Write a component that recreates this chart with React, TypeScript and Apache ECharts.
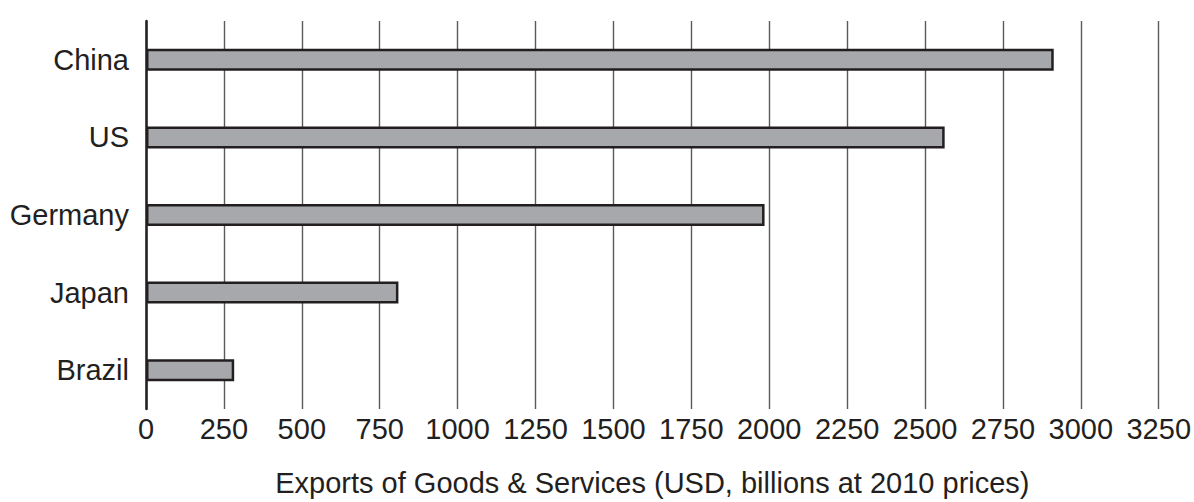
import React, { useEffect, useRef } from "react";
import * as echarts from "echarts";

const categories = ["China", "US", "Germany", "Japan", "Brazil"];
const exportsValues = [2913, 2563, 1985, 810, 283];
const xTickMax = 3250;
const xTickStep = 250;
const axisTitle = "Exports of Goods & Services (USD, billions at 2010 prices)";

const FONT = "'Liberation Sans', Arial, Helvetica, sans-serif";
const INK = "#231f20";
const FS = 29;

export default function App() {
  const ref = useRef<HTMLDivElement>(null);
  useEffect(() => {
    if (!ref.current) return;
    const chart = echarts.init(ref.current, null, { renderer: "svg" });
    chart.setOption({
      animation: false,
      backgroundColor: "#ffffff",
      textStyle: { fontFamily: FONT },
      grid: { left: 146, right: 35, top: 21, bottom: 87, containLabel: false },
      xAxis: {
        type: "value",
        min: 0,
        max: xTickMax,
        interval: xTickStep,
        axisLine: { show: false },
        axisTick: { show: false },
        splitLine: { show: true, lineStyle: { color: "#5a5a5a", width: 1.4 } },
        axisLabel: {
          fontSize: FS,
          color: INK,
          fontFamily: FONT,
          margin: 5,
          formatter: (v: number) => String(v),
        },
        name: axisTitle,
        nameLocation: "middle",
        nameGap: 59,
        nameTextStyle: { fontSize: FS, color: INK, fontFamily: FONT },
      },
      yAxis: {
        type: "category",
        data: categories,
        inverse: true,
        axisLine: { show: true, lineStyle: { color: INK, width: 2.5 } },
        axisTick: { show: false },
        splitLine: { show: false },
        axisLabel: { fontSize: FS, color: INK, fontFamily: FONT, margin: 17 },
      },
      series: [
        {
          type: "bar",
          data: exportsValues,
          barWidth: 22,
          itemStyle: { color: "#a7a8ab", borderColor: INK, borderWidth: 2.5 },
          emphasis: { disabled: true },
        },
      ],
    });
    return () => chart.dispose();
  }, []);
  return (
    <div
      ref={ref}
      style={{ position: "fixed", left: 0, top: 0, width: 1194, height: 502, background: "#fff" }}
    />
  );
}
